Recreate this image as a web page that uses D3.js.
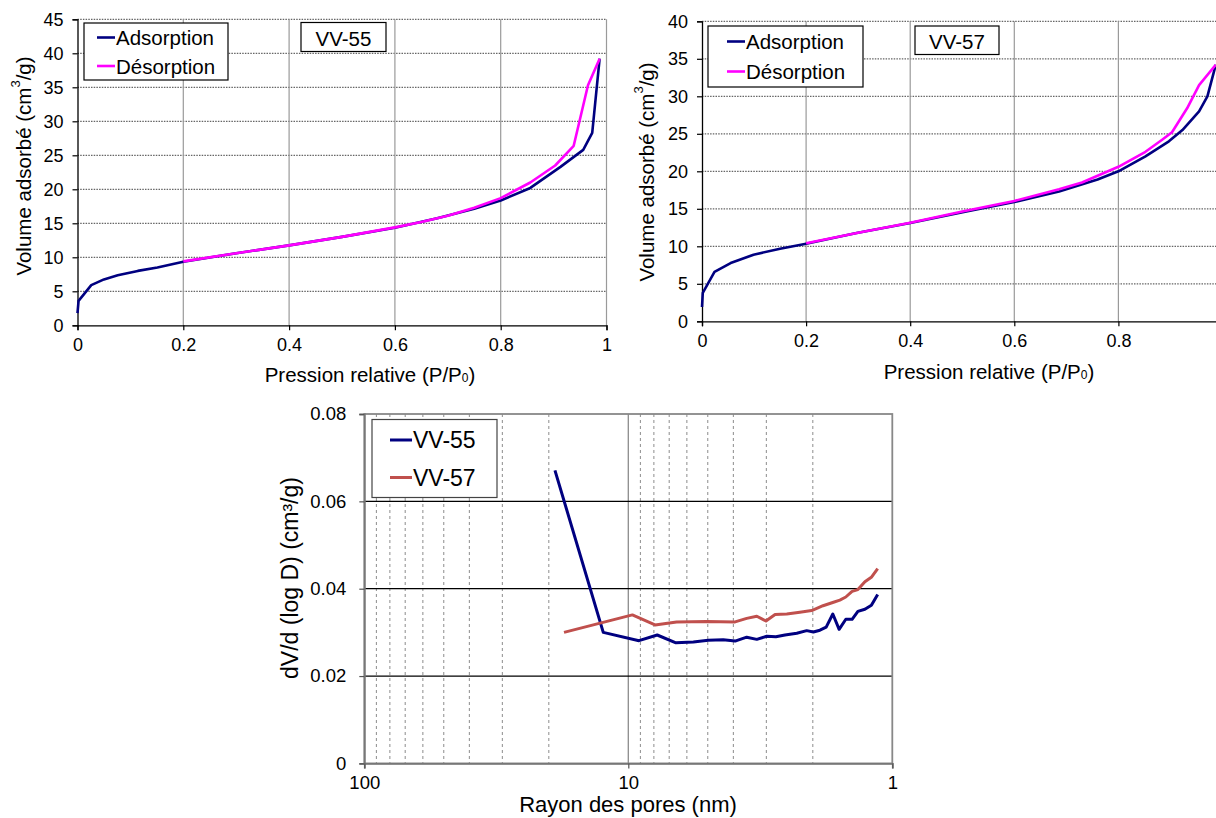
<!DOCTYPE html>
<html>
<head>
<meta charset="utf-8">
<script src="https://cdn.jsdelivr.net/npm/d3@7"></script>
<style>
  html, body { margin: 0; padding: 0; background: #fff; }
  svg { display: block; font-family: "Liberation Sans", Arial, sans-serif; }
</style>
</head>
<body>
<script>
// ---- Isotherm data: [relative pressure P/P0, volume adsorbed cm3/g] ----
const pressureTicks = [0, 0.2, 0.4, 0.6, 0.8, 1];
const vv55VolumeTicks = [0, 5, 10, 15, 20, 25, 30, 35, 40, 45];
const vv57VolumeTicks = [0, 5, 10, 15, 20, 25, 30, 35, 40];

const vv55Adsorption = [[0.000,1.8],[0.002,3.6],[0.026,5.9],[0.05,6.75],[0.076,7.35],[0.114,8.0],[0.151,8.5],[0.2,9.35],[0.3,10.6],[0.4,11.75],[0.5,13.0],[0.6,14.35],[0.68,15.75],[0.75,17.15],[0.80,18.35],[0.856,20.2],[0.913,23.3],[0.956,25.8],[0.973,28.3],[0.987,39.2]];
const vv55Desorption = [[0.987,39.2],[0.965,35.3],[0.938,26.4],[0.903,23.5],[0.856,21.0],[0.80,18.7],[0.75,17.3],[0.70,16.1],[0.65,15.2],[0.6,14.4],[0.5,13.0],[0.4,11.75],[0.3,10.6],[0.2,9.4]];

const vv57Adsorption = [[0,1.9],[0.0015,3.8],[0.024,6.6],[0.055,7.77],[0.099,8.88],[0.15,9.68],[0.2,10.35],[0.297,11.77],[0.4,13.1],[0.503,14.58],[0.6,15.9],[0.686,17.3],[0.76,18.9],[0.8,20.0],[0.852,22.0],[0.897,24.0],[0.923,25.5],[0.955,28.0],[0.971,30.0],[0.987,34.2]];
const vv57Desorption = [[0.987,34.2],[0.955,31.5],[0.932,28.4],[0.903,25.2],[0.884,24.2],[0.852,22.6],[0.8,20.6],[0.73,18.5],[0.686,17.6],[0.6,16.05],[0.5,14.65],[0.4,13.15],[0.3,11.8],[0.2,10.4]];

// ---- Pore size distribution: radius (nm) and dV/d(log D) (cm3/g) ----
const radiusTicks = [100, 10, 1];
const radiusMinor = [90, 80, 70, 60, 50, 40, 30, 20, 9, 8, 7, 6, 5, 4, 3, 2];
const dvTicks = [0, 0.02, 0.04, 0.06, 0.08];

const poreRadiusVV55 = [18.96,12.44,9.11,7.77,6.60,5.67,4.98,4.37,3.94,3.56,3.26,2.99,2.76,2.55,2.30,2.11,1.99,1.88,1.78,1.68,1.59,1.50,1.42,1.35,1.27,1.20,1.136];
const dvVV55 = [0.0671,0.0300,0.0281,0.0294,0.0276,0.0278,0.0282,0.0283,0.0280,0.0289,0.0284,0.0291,0.0290,0.0294,0.0298,0.0304,0.0301,0.0305,0.0312,0.0342,0.0307,0.0330,0.0330,0.0348,0.0353,0.0362,0.0387];
const poreRadiusVV57 = [17.52,9.65,7.92,6.56,5.05,3.94,3.56,3.26,3.01,2.78,2.51,2.24,2.02,1.83,1.67,1.58,1.50,1.42,1.35,1.27,1.197,1.136];
const dvVV57 = [0.0300,0.0340,0.0317,0.0324,0.0325,0.0324,0.0332,0.0337,0.0326,0.0341,0.0342,0.0346,0.0350,0.0361,0.0369,0.0374,0.0381,0.0394,0.0398,0.0416,0.0427,0.0446];

const NAVY = "#000080", MAGENTA = "#FF00FF", BRICK = "#C0504D";

const svg = d3.select("body").append("svg").attr("width", 1216).attr("height", 818);

// Volume axis title with superscript 3
function volumeTitle(g, cx, cy) {
  const t = g.append("text")
    .attr("transform", `translate(${cx},${cy}) rotate(-90)`)
    .attr("text-anchor", "middle").attr("dominant-baseline", "central")
    .attr("font-size", 20.5);
  t.append("tspan").text("Volume adsorbé (cm");
  t.append("tspan").attr("font-size", 13).attr("dy", -8).text("3");
  t.append("tspan").attr("dy", 8).text("/g)");
}

function pressureTitle(g, cx, cy) {
  const t = g.append("text").attr("x", cx).attr("y", cy)
    .attr("text-anchor", "middle").attr("dominant-baseline", "central")
    .attr("font-size", 20.5);
  t.append("tspan").text("Pression relative (P/P");
  t.append("tspan").attr("font-size", 12).attr("dy", 4).text("0");
  t.append("tspan").attr("dy", -4).text(")");
}

function isotherm(cfg) {
  const g = svg.append("g");
  const x = d3.scaleLinear().domain([0, 1]).range([cfg.left, cfg.right]);
  const y = d3.scaleLinear().domain([0, cfg.yMax]).range([cfg.bottom, cfg.top]);
  const xTicks = pressureTicks.filter(d => x(d) <= 1210);

  // horizontal dotted gridlines
  g.append("g").selectAll("line").data(cfg.yTicks.filter(d => d > 0)).join("line")
    .attr("x1", cfg.left).attr("x2", cfg.right)
    .attr("y1", d => y(d)).attr("y2", d => y(d))
    .attr("stroke", "#666").attr("stroke-width", 1.2).attr("stroke-dasharray", "1.5,1.2");
  // vertical solid gridlines
  g.append("g").selectAll("line").data(pressureTicks.filter(d => d > 0)).join("line")
    .attr("x1", d => x(d)).attr("x2", d => x(d))
    .attr("y1", cfg.top).attr("y2", cfg.bottom)
    .attr("stroke", "#9a9a9a").attr("stroke-width", 1.2);

  const yAxis = g.append("g").attr("transform", `translate(${cfg.left},0)`)
    .call(d3.axisLeft(y).tickValues(cfg.yTicks).tickSize(5).tickPadding(9).tickFormat(d3.format("d")));
  const xAxis = g.append("g").attr("transform", `translate(0,${cfg.bottom})`)
    .call(d3.axisBottom(x).tickValues(xTicks).tickSize(5).tickPadding(8).tickFormat(d => String(d)));
  [yAxis, xAxis].forEach(a => {
    a.select(".domain").attr("stroke", "#000").attr("stroke-width", 1.3);
    a.selectAll(".tick line").attr("stroke", "#000").attr("stroke-width", 1.2);
    a.selectAll("text").attr("font-size", 18).attr("fill", "#000")
      .attr("font-family", "Liberation Sans, Arial, sans-serif");
  });

  const line = d3.line().x(d => x(d[0])).y(d => y(d[1]));
  g.append("path").datum(cfg.ads).attr("d", line).attr("fill", "none")
    .attr("stroke", NAVY).attr("stroke-width", 2.6).attr("stroke-linejoin", "round");
  g.append("path").datum(cfg.des).attr("d", line).attr("fill", "none")
    .attr("stroke", MAGENTA).attr("stroke-width", 2.6).attr("stroke-linejoin", "round");

  // legend
  const L = cfg.legend;
  g.append("rect").attr("x", L.x).attr("y", L.y).attr("width", L.w).attr("height", L.h)
    .attr("fill", "#fff").attr("stroke", "#000").attr("stroke-width", 1.2);
  [["Adsorption", NAVY, L.row1], ["Désorption", MAGENTA, L.row2]].forEach(([label, color, ry]) => {
    g.append("line").attr("x1", L.lx1).attr("x2", L.lx2).attr("y1", ry).attr("y2", ry)
      .attr("stroke", color).attr("stroke-width", 2.6);
    g.append("text").attr("x", L.lx2 + 1).attr("y", ry).attr("dominant-baseline", "central")
      .attr("font-size", 20.5).text(label);
  });

  // sample label box
  const B = cfg.tag;
  g.append("rect").attr("x", B.x).attr("y", B.y).attr("width", B.w).attr("height", B.h)
    .attr("fill", "#fff").attr("stroke", "#000").attr("stroke-width", 1.2);
  g.append("text").attr("x", B.x + B.w / 2).attr("y", B.y + B.h / 2 + 1)
    .attr("text-anchor", "middle").attr("dominant-baseline", "central")
    .attr("font-size", 20.5).text(B.text);

  volumeTitle(g, cfg.yTitle[0], cfg.yTitle[1]);
  pressureTitle(g, cfg.xTitle[0], cfg.xTitle[1]);
}

isotherm({
  left: 77.5, right: 606.5, top: 19.3, bottom: 325.3, yMax: 45, yTicks: vv55VolumeTicks,
  ads: vv55Adsorption, des: vv55Desorption,
  legend: { x: 84, y: 23, w: 144, h: 57, lx1: 97, lx2: 115, row1: 37.5, row2: 66 },
  tag: { x: 301, y: 22.5, w: 85, h: 29, text: "VV-55" },
  yTitle: [23, 166], xTitle: [370, 374]
});

isotherm({
  left: 702, right: 1222.5, top: 21.3, bottom: 321.3, yMax: 40, yTicks: vv57VolumeTicks,
  ads: vv57Adsorption, des: vv57Desorption,
  legend: { x: 708, y: 26, w: 155, h: 61, lx1: 727, lx2: 745, row1: 41.5, row2: 71.5 },
  tag: { x: 915, y: 26, w: 84, h: 28.5, text: "VV-57" },
  yTitle: [646, 172], xTitle: [989, 371]
});

// ---- Pore size distribution chart (log radius axis, decreasing) ----
(function () {
  const left = 364.3, right = 892.3, top = 414, bottom = 763.4;
  const g = svg.append("g");
  const x = d3.scaleLog().domain([100, 1]).range([left, right]);
  const y = d3.scaleLinear().domain([0, 0.08]).range([bottom, top]);

  g.append("g").selectAll("line").data(radiusMinor).join("line")
    .attr("x1", d => x(d)).attr("x2", d => x(d)).attr("y1", top).attr("y2", bottom)
    .attr("stroke", "#8c8c8c").attr("stroke-width", 1).attr("stroke-dasharray", "3,3");
  g.append("line").attr("x1", x(10)).attr("x2", x(10)).attr("y1", top).attr("y2", bottom)
    .attr("stroke", "#8c8c8c").attr("stroke-width", 1.3);
  g.append("g").selectAll("line").data(dvTicks.filter(d => d > 0 && d < 0.08)).join("line")
    .attr("x1", left).attr("x2", right).attr("y1", d => y(d)).attr("y2", d => y(d))
    .attr("stroke", "#000").attr("stroke-width", 1.2);
  g.append("rect").attr("x", left).attr("y", top).attr("width", right - left).attr("height", bottom - top)
    .attr("fill", "none").attr("stroke", "#888").attr("stroke-width", 1.8);

  const yAxis = g.append("g").attr("transform", `translate(${left},0)`)
    .call(d3.axisLeft(y).tickValues(dvTicks).tickSize(5).tickPadding(13)
      .tickFormat(d => d === 0 ? "0" : d.toFixed(2)));
  const xAxis = g.append("g").attr("transform", `translate(0,${bottom})`)
    .call(d3.axisBottom(x).tickValues(radiusTicks).tickSize(5).tickPadding(7).tickFormat(d3.format("d")));
  [yAxis, xAxis].forEach(a => {
    a.select(".domain").attr("stroke", "#777").attr("stroke-width", 1.8);
    a.selectAll(".tick line").attr("stroke", "#555").attr("stroke-width", 1.2);
    a.selectAll("text").attr("font-size", 18.5).attr("fill", "#000")
      .attr("font-family", "Liberation Sans, Arial, sans-serif");
  });

  const line = d3.line().x(d => x(d[0])).y(d => y(d[1]));
  const s55 = poreRadiusVV55.map((r, i) => [r, dvVV55[i]]);
  const s57 = poreRadiusVV57.map((r, i) => [r, dvVV57[i]]);
  g.append("path").datum(s55).attr("d", line).attr("fill", "none")
    .attr("stroke", NAVY).attr("stroke-width", 3).attr("stroke-linejoin", "round");
  g.append("path").datum(s57).attr("d", line).attr("fill", "none")
    .attr("stroke", BRICK).attr("stroke-width", 3).attr("stroke-linejoin", "round");

  // legend
  g.append("rect").attr("x", 372).attr("y", 419.5).attr("width", 125).attr("height", 78)
    .attr("fill", "#fff").attr("stroke", "#444").attr("stroke-width", 1.2);
  [["VV-55", NAVY, 440], ["VV-57", BRICK, 477.5]].forEach(([label, color, ry]) => {
    g.append("line").attr("x1", 390).attr("x2", 412).attr("y1", ry).attr("y2", ry)
      .attr("stroke", color).attr("stroke-width", 3);
    g.append("text").attr("x", 413).attr("y", ry).attr("dominant-baseline", "central")
      .attr("font-size", 23).text(label);
  });

  g.append("text").attr("transform", "translate(290,578) rotate(-90)")
    .attr("text-anchor", "middle").attr("dominant-baseline", "central")
    .attr("font-size", 23).text("dV/d (log D) (cm³/g)");
  g.append("text").attr("x", 628).attr("y", 812)
    .attr("text-anchor", "middle")
    .attr("font-size", 22).text("Rayon des pores (nm)");
})();
</script>
</body>
</html>
